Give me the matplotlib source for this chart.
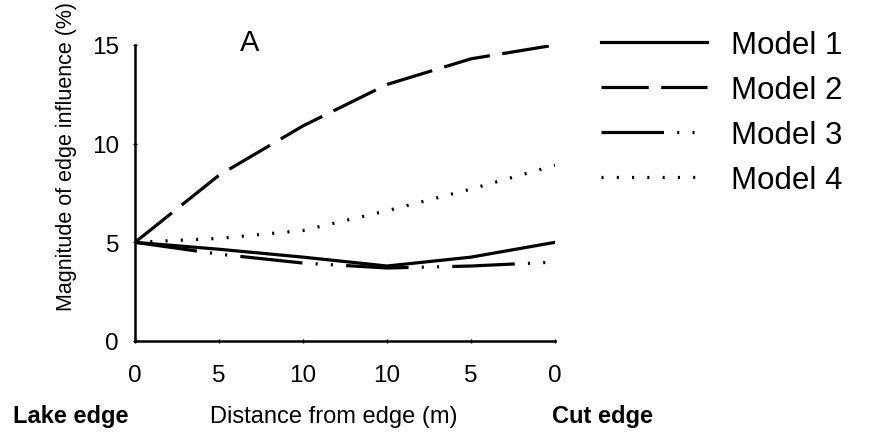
import matplotlib
matplotlib.use('Agg')
import matplotlib.pyplot as plt

plt.rcParams['font.family'] = ['Liberation Sans', 'DejaVu Sans']
plt.rcParams['lines.scale_dashes'] = False

# positions along the transect and their tick labels
tick_labels = ['0', '5', '10', '10', '5', '0']
model_names = ['Model 1', 'Model 2', 'Model 3', 'Model 4']
model1 = [5.0, 4.65, 4.25, 3.8, 4.25, 5.0]
model2 = [5.0, 8.4, 10.9, 13.0, 14.3, 15.0]
model3 = [5.0, 4.4, 3.95, 3.7, 3.8, 4.0]
model4 = [5.0, 5.2, 5.6, 6.6, 7.7, 8.9]

W, H = 875, 439
fig = plt.figure(figsize=(W/100, H/100), dpi=100)
ax = fig.add_axes([135/W, 1-342/H, 420/W, 296/H])

x = list(range(len(tick_labels)))
ax.plot(x, model1, color='k', lw=2.3, ls='-', label=model_names[0])
ax.plot(x, model2, color='k', lw=2.3, ls=(0, (34, 9)), label=model_names[1])
ax.plot(x, model3, color='k', lw=2.3, ls=(0, (45, 9.5, 1.5, 9.5, 1.5, 9.5)), label=model_names[2])
ax.plot(x, model4, color='k', lw=2.3, ls=(0, (1.5, 9.5)), label=model_names[3])

ax.set_xlim(0, 5)
ax.set_ylim(0, 15)
ax.set_xticks(x)
ax.set_xticklabels(tick_labels)
ax.set_yticks([0, 5, 10, 15])
ax.tick_params(axis='both', labelsize=17.5, length=3, width=1, direction='inout')
ax.tick_params(axis='x', pad=15)
ax.tick_params(axis='y', pad=10)
for s in ['top', 'right']:
    ax.spines[s].set_visible(False)
for s in ['left', 'bottom']:
    ax.spines[s].set_linewidth(1.8)

fig.text(67/W, 1-157/H, 'Magnitude of edge influence (%)', fontsize=15.5,
         rotation=90, ha='center', va='center')
fig.text(250/W, 1-43/H, 'A', fontsize=21, ha='center', va='center')

fig.text(13/W, 1-417/H, 'Lake edge', fontsize=17, fontweight='bold', va='center')
fig.text(210/W, 1-417/H, 'Distance from edge (m)', fontsize=17, va='center')
fig.text(552/W, 1-417/H, 'Cut edge', fontsize=17, fontweight='bold', va='center')

ax.legend(loc='upper left', bbox_to_anchor=(601/W, 1-31/H), bbox_transform=fig.transFigure,
          frameon=False, fontsize=22.5, handlelength=3.4, labelspacing=0.48, handletextpad=0.75,
          borderaxespad=0, borderpad=0)

fig.savefig('out.png', dpi=100)
